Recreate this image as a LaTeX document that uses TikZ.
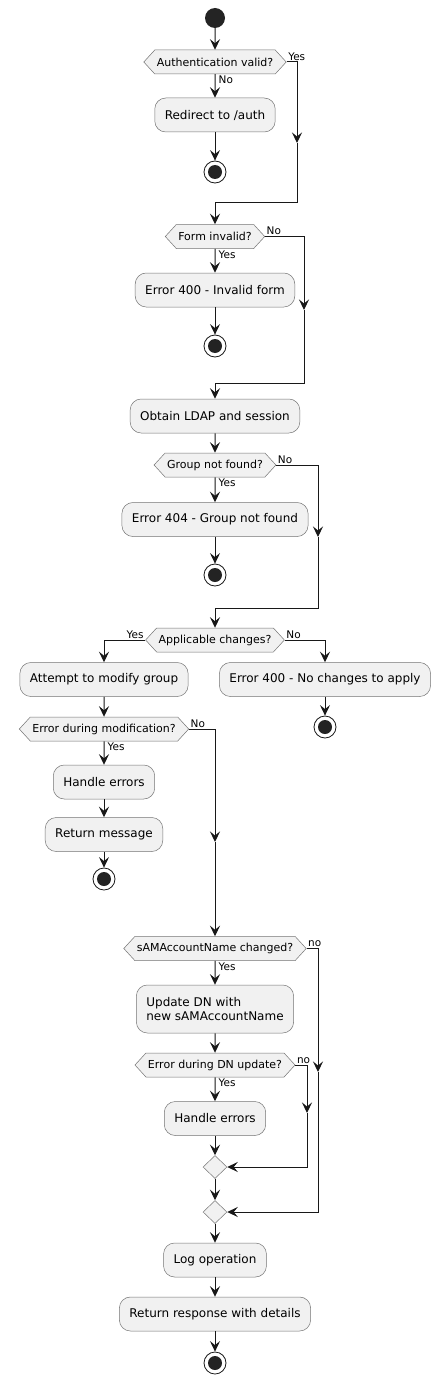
\documentclass[tikz,border=0pt]{standalone}
\usepackage{fontspec}
\setmainfont{DejaVu Sans}
\usetikzlibrary{shapes.geometric}
\usetikzlibrary{shapes.symbols}
\usetikzlibrary{arrows.meta}

\definecolor{actfill}{HTML}{F1F1F1}
\definecolor{actline}{HTML}{181818}

\tikzset{
    flow/.style={draw=actline, line width=1pt, -{Stealth[length=10.5pt,width=10pt,inset=4pt]}},
    wire/.style={draw=actline, line width=1pt},
    action/.style={draw=actline!60, line width=0.5pt, fill=actfill, rounded corners=11pt,
        minimum height=34pt, inner xsep=10pt, font=\fontsize{12}{14}\selectfont},
    test/.style={signal, signal to=east and west, signal pointer angle=95, draw=actline!60,
        line width=0.5pt, fill=actfill, minimum height=24pt, inner xsep=2pt, inner ysep=0pt,
        font=\fontsize{11}{13}\selectfont},
    merge/.style={diamond, draw=actline!60, line width=0.5pt, fill=actfill,
        minimum width=24pt, minimum height=23pt, inner sep=0pt},
    startnode/.style={circle, fill=actline!95, minimum size=20pt, inner sep=0pt},
    stopnode/.style={circle, draw=actline, line width=0.8pt, fill=white, minimum size=22pt, inner sep=0pt,
        path picture={\fill[actline!95] (path picture bounding box.center) circle (7pt);}},
    lbl/.style={font=\fontsize{10.5}{12}\selectfont, inner sep=1.5pt}
}

\begin{document}
\begin{tikzpicture}[x=1pt, y=-1pt]
            \fill[white] (0,0) rectangle (441,1383);
            \useasboundingbox (0,0) rectangle (441,1383);

            % Main column
            \node[startnode] (start) at (215,18) {};
            \node[test] (auth) at (215,62) {Authentication valid?};
            \node[action] (redirect) at (215,115) {Redirect to /auth};
            \node[test] (form) at (215,236.5) {Form invalid?};
            \node[action] (badform) at (215,290) {Error 400 - Invalid form};
            \node[action] (ldap) at (215,416) {Obtain LDAP and session};
            \node[test] (group) at (215,465) {Group not found?};
            \node[action] (nogroup) at (215,519.5) {Error 404 - Group not found};
            \node[test] (changes) at (215,640) {Applicable changes?};

            % Left and right of the changes test
            \node[action] (modify) at (104,679.5) {Attempt to modify group};
            \node[action] (nochanges) at (325,679.5) {Error 400 - No changes to apply};
            \node[test] (moderr) at (104,729) {Error during modification?};
            \node[action] (handleA) at (104,782) {Handle errors};
            \node[action] (retmsg) at (104,834.5) {Return message};

            % Rename part
            \node[test] (samname) at (215,948.5) {sAMAccountName changed?};
            \node[action, align=left, minimum height=48pt] (updatedn) at (215,1009) {Update DN with\\new sAMAccountName};
            \node[test] (dnerr) at (215,1065) {Error during DN update?};
            \node[action] (handleB) at (215,1118.5) {Handle errors};
            \node[merge] (mergeA) at (215,1167) {};
            \node[merge] (mergeB) at (215,1212) {};
            \node[action] (logop) at (215,1260) {Log operation};
            \node[action] (response) at (215,1314) {Return response with details};

            % Stops
            \foreach \n/\x/\y in {stopA/215/172, stopB/215/346, stopC/215/575, stopD/325/727, stopE/104/879, stopF/215/1363} {
                \node[stopnode] (\n) at (\x,\y) {};
            }

            % Bends and joins of the side branches
            \coordinate (authtip) at (297,143);
            \coordinate (authjoin) at (215,202);
            \coordinate (formtip) at (304,310);
            \coordinate (formjoin) at (215,383);
            \coordinate (grouptip) at (318,537);
            \coordinate (groupjoin) at (215,608);
            \coordinate (modtip) at (215,842);
            \coordinate (samtip) at (318,1072);
            \coordinate (dntip) at (307,1113);

            % Straight flow
            \draw[flow] (start) -- (auth);
            \draw[flow] (auth) -- (redirect);
            \draw[flow] (redirect) -- (stopA);
            \draw[flow] (form) -- (badform);
            \draw[flow] (badform) -- (stopB);
            \draw[flow] (ldap) -- (group);
            \draw[flow] (group) -- (nogroup);
            \draw[flow] (nogroup) -- (stopC);
            \draw[flow] (changes.west) -| (modify.north);
            \draw[flow] (changes.east) -| (nochanges.north);
            \draw[flow] (nochanges) -- (stopD);
            \draw[flow] (modify) -- (moderr);
            \draw[flow] (moderr) -- (handleA);
            \draw[flow] (handleA) -- (retmsg);
            \draw[flow] (retmsg) -- (stopE);
            \draw[flow] (samname) -- (updatedn);
            \draw[flow] (updatedn) -- (dnerr);
            \draw[flow] (dnerr) -- (handleB);
            \draw[flow] (handleB) -- (mergeA);
            \draw[flow] (mergeA) -- (mergeB);
            \draw[flow] (mergeB) -- (logop);
            \draw[flow] (logop) -- (response);
            \draw[flow] (response) -- (stopF);

            % Side branches
            \draw[flow] (auth.east) -| (authtip);
            \draw[wire] (authtip) |- (authjoin);
            \draw[flow] (authjoin) -- (form.north);
            \draw[flow] (form.east) -| (formtip);
            \draw[wire] (formtip) |- (formjoin);
            \draw[flow] (formjoin) -- (ldap.north);
            \draw[flow] (group.east) -| (grouptip);
            \draw[wire] (grouptip) |- (groupjoin);
            \draw[flow] (groupjoin) -- (changes.north);
            \draw[flow] (moderr.east) -| (modtip);
            \draw[flow] (modtip) -- (samname.north);
            \draw[flow] (samname.east) -| (samtip);
            \draw[flow] (samtip) |- (mergeB.east);
            \draw[flow] (dnerr.east) -| (dntip);
            \draw[flow] (dntip) |- (mergeA.east);

            % Branch labels
            \node[lbl, anchor=south west] (authyes) at (auth.east) {Yes};
            \node[lbl, anchor=north west, xshift=2pt] (authno) at (auth.south) {No};
            \node[lbl, anchor=south west] (formno) at (form.east) {No};
            \node[lbl, anchor=north west, xshift=2pt] (formyes) at (form.south) {Yes};
            \node[lbl, anchor=south west] (groupno) at (group.east) {No};
            \node[lbl, anchor=north west, xshift=2pt] (groupyes) at (group.south) {Yes};
            \node[lbl, anchor=south east] (changesyes) at (changes.west) {Yes};
            \node[lbl, anchor=south west] (changesno) at (changes.east) {No};
            \node[lbl, anchor=south west] (modno) at (moderr.east) {No};
            \node[lbl, anchor=north west, xshift=2pt] (modyes) at (moderr.south) {Yes};
            \node[lbl, anchor=south west] (samno) at (samname.east) {no};
            \node[lbl, anchor=north west, xshift=2pt] (samyes) at (samname.south) {Yes};
            \node[lbl, anchor=south west] (dnno) at (dnerr.east) {no};
            \node[lbl, anchor=north west, xshift=2pt] (dnyes) at (dnerr.south) {Yes};
        \end{tikzpicture}
\end{document}
